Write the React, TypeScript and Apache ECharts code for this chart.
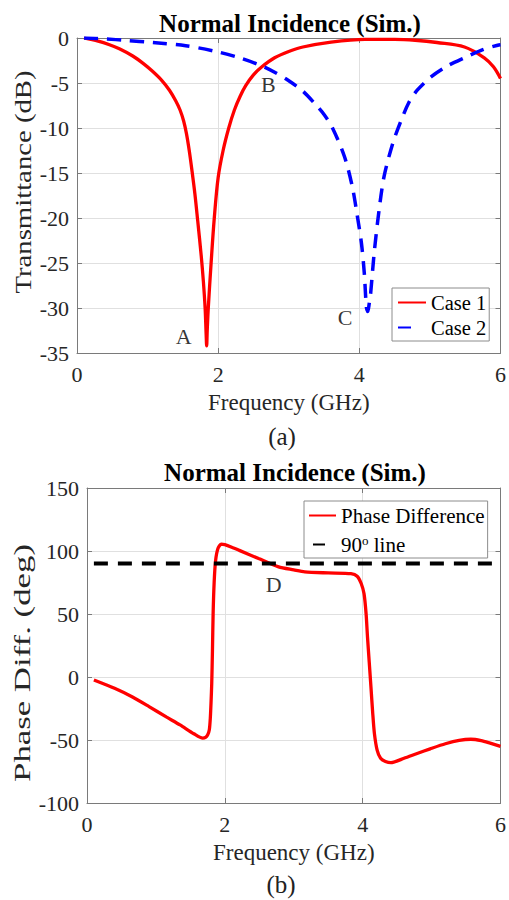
import React, { useEffect, useRef } from 'react';
import * as echarts from 'echarts';

// ---------- data ----------
const freqCase1 = [0.1, 0.3, 0.46, 0.6, 0.79, 0.95, 1.07, 1.2, 1.31, 1.4, 1.46, 1.51, 1.55, 1.59, 1.63, 1.67, 1.71, 1.76, 1.79, 1.815, 1.83, 1.837, 1.845, 1.86, 1.9, 1.945, 2.0, 2.07, 2.15, 2.23, 2.31, 2.39, 2.5, 2.62, 2.8, 3.0, 3.2, 3.6, 4.08, 4.5, 4.79, 5.1, 5.49, 5.77, 5.9, 6.0];
const valCase1 = [0, -0.35, -0.75, -1.2, -2.0, -2.9, -3.7, -4.7, -5.8, -7.0, -8.0, -9.2, -10.6, -12.5, -14.8, -17.3, -20.3, -24.2, -27.0, -30.0, -33.0, -34.2, -32.5, -30.0, -25.0, -20.0, -15.5, -12.5, -10.0, -8.0, -6.5, -5.3, -4.1, -3.2, -2.2, -1.5, -1.0, -0.45, -0.15, -0.15, -0.25, -0.5, -1.0, -2.2, -3.2, -4.5];

const freqCase2 = [0.1, 0.4, 0.7, 1.07, 1.54, 1.97, 2.3, 2.62, 2.8, 2.99, 3.2, 3.37, 3.5, 3.62, 3.79, 3.9, 3.97, 4.03, 4.07, 4.1, 4.12, 4.14, 4.16, 4.21, 4.28, 4.35, 4.47, 4.58, 4.7, 4.82, 5.02, 5.25, 5.49, 5.75, 5.96, 6.0];
const valCase2 = [0, -0.1, -0.27, -0.5, -0.86, -1.5, -2.2, -3.1, -3.8, -4.7, -5.9, -7.3, -8.5, -10, -13.2, -16.5, -19.7, -22.8, -26.1, -29.9, -30.4, -29.5, -28.4, -23.9, -19.1, -15.4, -11.8, -9.4, -7.2, -5.8, -4.3, -3.1, -2.2, -1.3, -0.8, -0.75];

const freqPhase = [0.1, 0.4, 0.66, 0.9, 1.15, 1.35, 1.55, 1.68, 1.72, 1.75, 1.775, 1.79, 1.8, 1.81, 1.82, 1.83, 1.845, 1.865, 1.9, 1.95, 2.0, 2.1, 2.21, 2.49, 2.78, 3.0, 3.16, 3.5, 3.83, 3.92, 3.98, 4.02, 4.05, 4.07, 4.095, 4.12, 4.145, 4.17, 4.21, 4.26, 4.33, 4.41, 4.6, 4.8, 4.98, 5.2, 5.4, 5.57, 5.72, 5.85, 6.0];
const valPhase = [-2.4, -9, -15.9, -23.5, -31.7, -38, -45, -48.5, -48, -46, -41.8, -32, -20, -5, 20, 50, 75, 92, 102, 105.5, 105, 103, 100.5, 94, 87.4, 85, 83.4, 82.6, 82, 80, 74, 66, 50, 31.8, 12, -7.9, -28, -44.7, -58, -64.5, -67, -68, -64.5, -60.5, -57, -53, -50.3, -49.4, -50.5, -52.5, -55];

const freqLine90 = [0.1, 6];
const valLine90 = [90, 90];

const markNamesTop = ['A', 'B', 'C'];
const markFreqTop = [1.51, 2.71, 3.8];
const markValTop = [-33.2, -5.13, -31.1];
const markNamesBottom = ['D'];
const markFreqBottom = [2.71];
const markValBottom = [73.6];

const seriesNames = ['Case 1', 'Case 2', 'Phase Difference', '90o line'];
const titleText = 'Normal Incidence (Sim.)';
const xName = 'Frequency (GHz)';
const yNameTop = 'Transmittance (dB)';
const yNameBottom = 'Phase Diff. (deg)';
const captions = ['(a)', '(b)'];

const SERIF = "'Liberation Serif', serif";
const AXIS_COLOR = '#7a7a7a';
const GRID_COLOR = '#e0e0e0';
const TEXT_COLOR = '#262626';

const pairs = (xs: number[], ys: number[]) => xs.map((x, i) => [x, ys[i]]);

function xAxisCfg(gridIndex: number, position: 'bottom' | 'top') {
  const main = position === 'bottom';
  return {
    type: 'value',
    gridIndex,
    position,
    min: 0,
    max: 6,
    interval: 2,
    axisLine: { show: true, onZero: false, lineStyle: { color: AXIS_COLOR, width: 1 } },
    axisTick: { show: true, inside: true, length: 5, lineStyle: { color: AXIS_COLOR } },
    axisLabel: main
      ? { show: true, fontFamily: SERIF, fontSize: 22, color: TEXT_COLOR, margin: 10 }
      : { show: false },
    splitLine: main ? { show: true, lineStyle: { color: GRID_COLOR, width: 1 } } : { show: false },
    name: main ? xName : '',
    nameLocation: 'middle',
    nameGap: 38,
    nameTextStyle: { fontFamily: SERIF, fontSize: 23, color: TEXT_COLOR },
  };
}

function yAxisCfg(gridIndex: number, position: 'left' | 'right', min: number, max: number, interval: number) {
  const main = position === 'left';
  return {
    type: 'value',
    gridIndex,
    position,
    min,
    max,
    interval,
    axisLine: { show: true, onZero: false, lineStyle: { color: AXIS_COLOR, width: 1 } },
    axisTick: { show: true, inside: true, length: 5, lineStyle: { color: AXIS_COLOR } },
    axisLabel: main
      ? { show: true, fontFamily: SERIF, fontSize: 22, color: TEXT_COLOR, margin: 8 }
      : { show: false },
    splitLine: main ? { show: true, lineStyle: { color: GRID_COLOR, width: 1 } } : { show: false },
  };
}

function markSeries(names: string[], xs: number[], ys: number[], xi: number, yi: number) {
  return {
    type: 'scatter',
    xAxisIndex: xi,
    yAxisIndex: yi,
    symbol: 'circle',
    symbolSize: 1,
    itemStyle: { color: 'rgba(0,0,0,0)' },
    silent: true,
    z: 5,
    data: names.map((n, i) => ({ name: n, value: [xs[i], ys[i]] })),
    label: {
      show: true,
      position: 'inside',
      formatter: (p: any) => p.name,
      fontFamily: SERIF,
      fontSize: 22,
      color: '#000',
    },
  };
}

const legendBase = {
  orient: 'vertical',
  itemHeight: 14,
  borderColor: '#8c8c8c',
  borderWidth: 1,
  backgroundColor: '#fff',
  selectedMode: false,
  itemStyle: { color: 'rgba(0,0,0,0)', borderWidth: 0, opacity: 0 },
};

export default function App() {
  const ref = useRef<HTMLDivElement>(null);
  useEffect(() => {
    if (!ref.current) return;
    const chart = echarts.init(ref.current, null, { renderer: 'svg' });
    const option: any = {
      animation: false,
      backgroundColor: '#fff',
      title: [
        { text: titleText, left: 290, top: 11, textAlign: 'center', padding: 0, textStyle: { fontFamily: SERIF, fontSize: 25, fontWeight: 'bold', color: '#000' } },
        { text: titleText, left: 295, top: 460, textAlign: 'center', padding: 0, textStyle: { fontFamily: SERIF, fontSize: 25, fontWeight: 'bold', color: '#000' } },
        { text: captions[0], left: 282, top: 424, textAlign: 'center', padding: 0, textStyle: { fontFamily: SERIF, fontSize: 25, fontWeight: 'normal', color: '#222' } },
        { text: captions[1], left: 281, top: 872, textAlign: 'center', padding: 0, textStyle: { fontFamily: SERIF, fontSize: 25, fontWeight: 'normal', color: '#222' } },
      ],
      graphic: [
        {
          type: 'text',
          x: 23,
          y: 182,
          rotation: Math.PI / 2,
          scaleX: 1.25,
          silent: true,
          style: { text: yNameTop, font: `23px ${SERIF}`, fill: TEXT_COLOR, textAlign: 'center', textVerticalAlign: 'middle' },
        },
        {
          type: 'text',
          x: 22,
          y: 663,
          rotation: Math.PI / 2,
          scaleX: 1.45,
          silent: true,
          style: { text: yNameBottom, font: `24px ${SERIF}`, fill: TEXT_COLOR, textAlign: 'center', textVerticalAlign: 'middle' },
        },
      ],
      grid: [
        { left: 77, right: 6, top: 38, height: 315, containLabel: false },
        { left: 87, right: 6, top: 488, height: 315, containLabel: false },
      ],
      xAxis: [
        xAxisCfg(0, 'bottom'),
        xAxisCfg(0, 'top'),
        xAxisCfg(1, 'bottom'),
        xAxisCfg(1, 'top'),
      ],
      yAxis: [
        yAxisCfg(0, 'left', -35, 0, 5),
        yAxisCfg(0, 'right', -35, 0, 5),
        yAxisCfg(1, 'left', -100, 150, 50),
        yAxisCfg(1, 'right', -100, 150, 50),
      ],
      legend: [
        {
          ...legendBase,
          left: 392,
          top: 288,
          data: [
            { name: seriesNames[0] },
            { name: seriesNames[1], lineStyle: { type: [13, 40] } },
          ],
          itemWidth: 28,
          itemGap: 4,
          padding: [4, 3, 3, 5],
          textStyle: { fontFamily: SERIF, fontSize: 20.5, color: '#000' },
        },
        {
          ...legendBase,
          left: 304,
          top: 501,
          data: [
            { name: seriesNames[2] },
            { name: seriesNames[3], lineStyle: { type: [12, 30], dashOffset: 38 } },
          ],
          itemWidth: 27,
          itemGap: 8,
          padding: [4, 3, 3, 4],
          formatter: (name: string) => (name === seriesNames[3] ? '90{sup|o} line' : name),
          textStyle: {
            fontFamily: SERIF,
            fontSize: 21,
            color: '#000',
            rich: {
              sup: { fontFamily: SERIF, fontSize: 13, color: '#000', verticalAlign: 'top', lineHeight: 13 },
            },
          },
        },
      ],
      series: [
        {
          name: seriesNames[0],
          type: 'line',
          xAxisIndex: 0,
          yAxisIndex: 0,
          data: pairs(freqCase1, valCase1),
          smooth: 0.35,
          symbol: 'none',
          lineStyle: { color: '#ff0000', width: 3.3 },
          itemStyle: { color: '#ff0000' },
          z: 3,
        },
        {
          name: seriesNames[1],
          type: 'line',
          xAxisIndex: 0,
          yAxisIndex: 0,
          data: pairs(freqCase2, valCase2),
          smooth: 0.3,
          symbol: 'none',
          lineStyle: { color: '#0000ff', width: 3.5, type: [14, 9] },
          itemStyle: { color: '#0000ff' },
          z: 4,
        },
        {
          name: seriesNames[2],
          type: 'line',
          xAxisIndex: 2,
          yAxisIndex: 2,
          data: pairs(freqPhase, valPhase),
          smooth: 0.25,
          symbol: 'none',
          lineStyle: { color: '#ff0000', width: 3.3 },
          itemStyle: { color: '#ff0000' },
          z: 3,
        },
        {
          name: seriesNames[3],
          type: 'line',
          xAxisIndex: 2,
          yAxisIndex: 2,
          data: pairs(freqLine90, valLine90),
          symbol: 'none',
          lineStyle: { color: '#000000', width: 4, type: [14, 10] },
          itemStyle: { color: '#000000' },
          z: 4,
        },
        markSeries(markNamesTop, markFreqTop, markValTop, 0, 0),
        markSeries(markNamesBottom, markFreqBottom, markValBottom, 2, 2),
      ],
    };
    chart.setOption(option);
    return () => chart.dispose();
  }, []);
  return (
    <div
      ref={ref}
      style={{ position: 'absolute', left: 0, top: 0, width: 509, height: 900, background: '#fff' }}
    />
  );
}
